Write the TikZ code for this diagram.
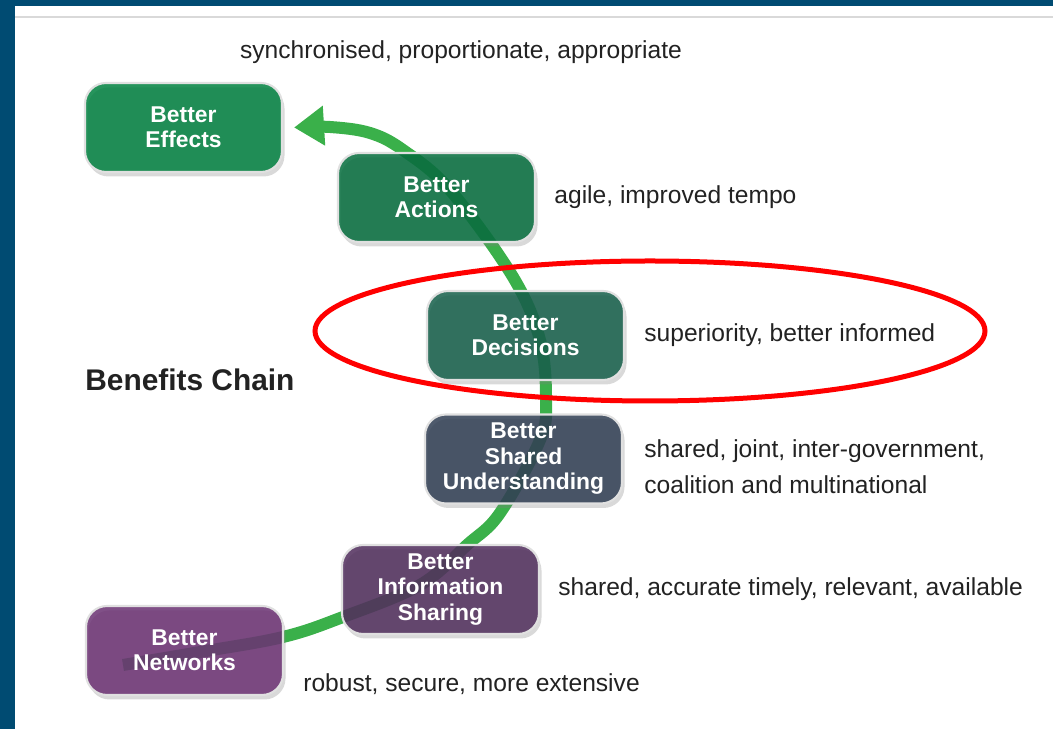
\documentclass[tikz,border=0pt]{standalone}
\usepackage{fontspec}
\setmainfont{Liberation Sans}
\usetikzlibrary{arrows.meta,positioning,shadows,backgrounds}
\definecolor{frameBlue}{RGB}{0,75,114}
\definecolor{chainGreen}{RGB}{58,176,74}
\definecolor{effGreen}{RGB}{0,129,63}
\definecolor{actGreen}{RGB}{4,108,60}
\definecolor{decTeal}{RGB}{20,94,73}
\definecolor{undSlate}{RGB}{47,61,82}
\definecolor{infoPlum}{RGB}{79,44,91}
\definecolor{netPlum}{RGB}{106,49,114}
\definecolor{noteGray}{RGB}{34,34,34}

\begin{document}
\begin{tikzpicture}[
  benefit/.style={rounded corners=0.42cm, minimum width=3.94cm, minimum height=1.78cm,
    inner sep=2pt, align=center, text=white, font=\fontsize{13}{14.5}\selectfont\bfseries,
    draw=black!12, line width=1.2pt, fill opacity=0.85, text opacity=1,
    drop shadow={shadow xshift=0.05cm, shadow yshift=-0.09cm, opacity=0.3}},
  note/.style={anchor=west, align=left, inner sep=0pt, text=noteGray,
    font=\fontsize{14}{20.4}\selectfont},
  chainline/.style={draw=chainGreen, line width=0.24cm,
    -{Triangle[width=0.76cm,length=0.6cm]}}
]
\useasboundingbox (0,0) rectangle (21.06,14.58);
% frame of the slide
\fill[frameBlue] (0,0) rectangle (0.3,14.58);
\fill[frameBlue] (0,14.46) rectangle (21.06,14.58);
\draw[black!15, line width=1pt] (0.3,14.24) -- (21.06,14.24);

% the chain
\node[benefit, fill=effGreen] (eff) at (3.67,12.03) {Better\\Effects};
\node[benefit, fill=actGreen] (act) at (8.73,10.63) {Better\\Actions};
\node[benefit, fill=decTeal] (dec) at (10.51,7.87) {Better\\Decisions};
\node[benefit, fill=undSlate] (und) at (10.47,5.40) {Better\\Shared\\Understanding};
\node[benefit, fill=infoPlum] (info) at (8.81,2.79) {Better\\Information\\Sharing};
\node[benefit, fill=netPlum] (net) at (3.69,1.57) {Better\\Networks};

\begin{scope}[on background layer]
\draw[chainline] plot[smooth, tension=0.6] coordinates {
  ([xshift=-1.23cm,yshift=-0.29cm]net.center) (4.00,1.54) (5.66,1.84) (6.86,2.24)
  (8.40,2.88) (9.34,3.68) (10.00,4.32) (10.80,5.78) (10.92,6.58) (10.80,7.78)
  (10.26,9.04) (9.00,10.78) (8.06,11.58) (7.40,11.92) (6.60,12.04)
  ([xshift=0.22cm]eff.east)};
\end{scope}

% captions
\node[note, anchor=center] (syncNote) at (9.22,13.54) {synchronised, proportionate, appropriate};
\node[note, right=0.36cm of act] (actNote) {agile, improved tempo};
\node[note, right=0.38cm of dec] (decNote) {superiority, better informed};
\node[note, right=0.42cm of und, yshift=-0.16cm] (undNote) {shared, joint, inter-government,\\coalition and multinational};
\node[note, right=0.36cm of info] (infoNote) {shared, accurate timely, relevant, available};
\node[note] (netNote) at (6.06,0.90) {robust, secure, more extensive};
\node[note, font=\fontsize{17}{20}\selectfont\bfseries] (title) at (1.70,6.98) {Benefits Chain};

% highlight
\draw[red, line width=0.1cm] ([xshift=2.49cm,yshift=0.09cm]dec.center)
  ellipse [x radius=6.7cm, y radius=1.4cm];
\end{tikzpicture}
\end{document}
